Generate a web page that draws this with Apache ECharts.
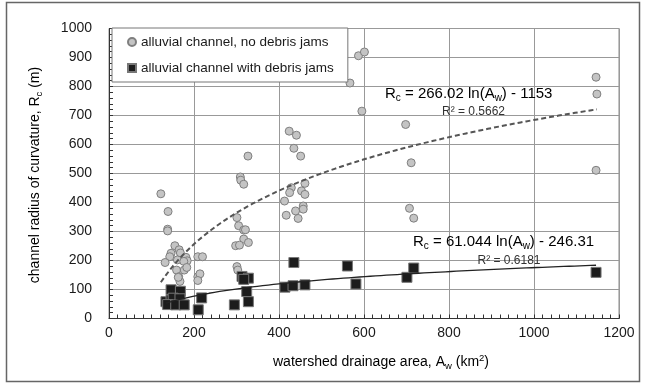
<!DOCTYPE html>
<html><head><meta charset="utf-8">
<script src="https://cdn.jsdelivr.net/npm/echarts@6/dist/echarts.min.js"></script>
<style>html,body{margin:0;padding:0;background:#fff}#c{width:645px;height:385px}</style>
</head><body><div id="c"></div>
<script>
// ---- data ----
const seriesNames = ['alluvial channel, no debris jams', 'alluvial channel with debris jams'];
const noJams = [
  [122,430],[139,369],[138,308],[138,302],[155,251],[146,225],[165,237],[168,226],[143,213],[181,211],
  [184,199],[132,193],[161,202],[176,197],[159,167],[177,167],[183,176],[164,144],[167,128],[163,142],
  [209,213],[220,213],[209,144],[214,154],[209,131],
  [327,560],[309,488],[310,477],[317,463],[301,348],[305,320],[317,305],[321,306],[317,274],[328,262],
  [298,251],[307,253],[301,179],[303,167],
  [424,646],[441,632],[435,587],[451,560],[429,451],[425,434],[461,466],[453,440],[461,428],[413,405],
  [457,388],[457,377],[439,371],[417,356],[445,345],
  [567,812],[587,906],[601,919],[595,715],[698,669],[711,537],[707,380],[717,346],
  [1146,832],[1148,774],[1146,511]
];
const withJams = [
  [146,99],[168,94],[134,58],[146,64],[151,70],[167,68],[138,48],[157,47],[177,47],[218,71],[210,30],
  [313,145],[328,139],[317,135],[324,93],[295,47],[328,58],
  [435,193],[414,108],[433,113],[461,116],[561,181],[581,119],[701,142],[717,174],[1146,159]
];
// trendline equations printed on the chart: Rc = a ln(Aw) + b
const trendNoJamsA = 266.02, trendNoJamsB = -1153, trendNoJamsR2 = '0.5662';
const trendJamsA = 61.044, trendJamsB = -246.31, trendJamsR2 = '0.6181';
const xMin = 0, xMax = 1200, xStep = 200;
const yMin = 0, yMax = 1000, yStep = 100;

function trendLine(pts, a, b) {
  const xs = pts.map(p => p[0]);
  const lo = Math.min(...xs), hi = Math.max(...xs);
  const out = [];
  const n = 80;
  for (let i = 0; i <= n; i++) {
    const x = lo + (hi - lo) * i / n;
    out.push([x, a * Math.log(x) + b]);
  }
  return out;
}

const FONT = 'Liberation Sans, Arial, sans-serif';
const chart = echarts.init(document.getElementById('c'), null, {renderer: 'canvas'});
const gridDef = {left: 109, right: 26, top: 28.5, bottom: 66.5, show: true, borderColor: '#8a8a8a', borderWidth: 1};
const eqRich = {
  a: {fontSize: 15, fontFamily: FONT, color: '#1a1a1a', lineHeight: 20, verticalAlign: 'middle'},
  s: {fontSize: 10, fontFamily: FONT, color: '#1a1a1a', lineHeight: 20, verticalAlign: 'bottom'}
};
const titleRich = {
  a: {fontSize: 14, fontFamily: FONT, color: '#1a1a1a', lineHeight: 18, verticalAlign: 'middle'},
  s: {fontSize: 9.5, fontFamily: FONT, color: '#1a1a1a', lineHeight: 18, verticalAlign: 'bottom'},
  p: {fontSize: 9.5, fontFamily: FONT, color: '#1a1a1a', lineHeight: 18, verticalAlign: 'top'}
};
const plain = v => String(v);

chart.setOption({
  animation: false,
  backgroundColor: '#fff',
  grid: gridDef,
  legend: {
    orient: 'vertical', left: 112, top: 28,
    padding: [7, 14, 7, 15], itemGap: 12, itemWidth: 8, itemHeight: 8,
    backgroundColor: '#fff', borderColor: '#777', borderWidth: 1,
    textStyle: {fontSize: 13.5, fontFamily: FONT, color: '#1a1a1a'},
    data: seriesNames
  },
  xAxis: {
    type: 'value', min: xMin, max: xMax, interval: xStep, position: 'bottom',
    axisLine: {show: true, lineStyle: {color: '#333', width: 1}},
    axisTick: {show: true, inside: true, length: 4, lineStyle: {color: '#333'}},
    minorTick: {show: true, splitNumber: 10, length: 4, lineStyle: {color: '#333'}},
    axisLabel: {fontSize: 14, fontFamily: FONT, color: '#1a1a1a', margin: 8, formatter: plain},
    splitLine: {show: true, lineStyle: {color: '#999', width: 1}}
  },
  yAxis: {
    type: 'value', min: yMin, max: yMax, interval: yStep, position: 'left',
    axisLine: {show: true, lineStyle: {color: '#333', width: 1}},
    axisTick: {show: true, inside: true, length: 4, lineStyle: {color: '#333'}},
    minorTick: {show: true, splitNumber: 5, length: 4, lineStyle: {color: '#333'}},
    axisLabel: {fontSize: 14, fontFamily: FONT, color: '#1a1a1a', margin: 17, formatter: plain},
    splitLine: {show: true, lineStyle: {color: '#999', width: 1}}
  },
  series: [{
    name: seriesNames[0], type: 'scatter', symbol: 'circle', symbolSize: 8,
    itemStyle: {color: '#c4c4c4', borderColor: '#7f7f7f', borderWidth: 1, opacity: 1},
    data: noJams, z: 3
  }, {
    name: seriesNames[1], type: 'scatter', symbol: 'rect', symbolSize: 10,
    itemStyle: {color: '#1c1c1c', borderColor: '#777', borderWidth: 1, opacity: 1},
    data: withJams, z: 3
  }, {
    name: 'trend1', type: 'line', showSymbol: false, symbol: 'none', silent: true,
    lineStyle: {color: '#555', width: 2, type: [5, 3]},
    data: trendLine(noJams, trendNoJamsA, trendNoJamsB), z: 4
  }, {
    name: 'trend2', type: 'line', showSymbol: false, symbol: 'none', silent: true,
    lineStyle: {color: '#222', width: 1.3},
    data: trendLine(withJams, trendJamsA, trendJamsB), z: 4
  }],
  graphic: [
    {type: 'rect', shape: {x: 6.5, y: 2.5, width: 633, height: 379}, style: {fill: 'none', stroke: '#666', lineWidth: 1.5}, z: 100},
    {type: 'text', left: 385, top: 86, z: 100,
     style: {text: '{a|R}{s|c}{a| = ' + trendNoJamsA.toFixed(2) + ' ln(A}{s|w}{a|) - ' + Math.abs(trendNoJamsB) + '}', rich: eqRich}},
    {type: 'text', x: 505, y: 112, z: 100,
     style: {text: 'R² = ' + trendNoJamsR2, align: 'right', verticalAlign: 'middle', fontSize: 12, fontFamily: FONT, fill: '#333'}},
    {type: 'text', left: 413, top: 234, z: 100,
     style: {text: '{a|R}{s|c}{a| = ' + trendJamsA.toFixed(3) + ' ln(A}{s|w}{a|) - ' + Math.abs(trendJamsB).toFixed(2) + '}', rich: eqRich}},
    {type: 'text', x: 540.5, y: 261, z: 100,
     style: {text: 'R² = ' + trendJamsR2, align: 'right', verticalAlign: 'middle', fontSize: 12, fontFamily: FONT, fill: '#333'}},
    {type: 'text', x: 381, y: 362, z: 100,
     style: {text: '{a|watershed drainage area, A}{s|w}{a| (km}{p|2}{a|)}', rich: titleRich, align: 'center', verticalAlign: 'middle'}},
    {type: 'text', x: 35.5, y: 175, rotation: Math.PI / 2, z: 100,
     style: {text: '{a|channel radius of curvature, R}{s|c}{a| (m)}', rich: titleRich, align: 'center', verticalAlign: 'middle'}}
  ]
});
</script>
</body></html>
